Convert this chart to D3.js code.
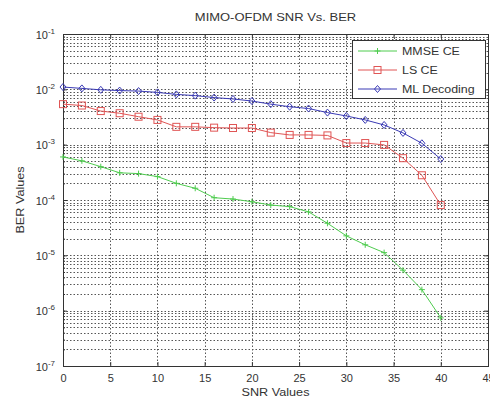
<!DOCTYPE html>
<html><head><meta charset="utf-8">
<script src="https://cdn.jsdelivr.net/npm/d3@7"></script>
<style>
html,body{margin:0;padding:0;background:#fff;}
text{font-family:"Liberation Sans",Arial,Helvetica,sans-serif;fill:#333;}
</style></head>
<body><svg id="c" width="490" height="401"></svg>
<script>
const snr = [0,2,4,6,8,10,12,14,16,18,20,22,24,26,28,30,32,34,36,38,40];
const mmseCE = [6.0e-4,5.1e-4,4.0e-4,3.1e-4,3.0e-4,2.65e-4,2.0e-4,1.63e-4,1.1e-4,1.04e-4,9.3e-5,8.1e-5,7.6e-5,6.1e-5,3.8e-5,2.25e-5,1.55e-5,1.12e-5,5.4e-6,2.4e-6,7.4e-7];
const lsCE = [5.4e-3,5.1e-3,4.05e-3,3.7e-3,3.2e-3,2.8e-3,2.1e-3,2.1e-3,2.03e-3,2.0e-3,2.0e-3,1.65e-3,1.5e-3,1.5e-3,1.47e-3,1.07e-3,1.07e-3,9.9e-4,5.7e-4,2.8e-4,8.1e-5];
const mlDec = [1.1e-2,1.04e-2,9.8e-3,9.5e-3,9.3e-3,8.8e-3,8.1e-3,7.7e-3,7.1e-3,6.7e-3,6.15e-3,5.4e-3,4.85e-3,4.5e-3,3.8e-3,3.3e-3,2.8e-3,2.27e-3,1.63e-3,1.06e-3,5.5e-4];
const seriesNames = ["MMSE CE","LS CE","ML Decoding"];
const xTickValues = [0,5,10,15,20,25,30,35,40,45];
const yTickExps = [-7,-6,-5,-4,-3,-2,-1];
const titleText = "MIMO-OFDM SNR Vs. BER";
const xLabel = "SNR Values";
const yLabel = "BER Values";

const svg = d3.select("#c");
const L=63, R=488, T=34, B=366;
const x = d3.scaleLinear().domain([0,45]).range([L,R]);
const y = d3.scaleLog().domain([1e-7,1e-1]).range([B,T]);

// grid
const minorVals = [];
yTickExps.slice(0,-1).forEach(e=>{for(let k=1;k<=9;k++){minorVals.push(k*Math.pow(10,e));}});
const grid = svg.append("g").attr("stroke","#555").attr("stroke-width",1).attr("stroke-dasharray","1.5,2").attr("fill","none");
grid.selectAll("line.h").data(minorVals.filter(v=>v>1.0001e-7)).enter().append("line")
  .attr("x1",L).attr("x2",R).attr("y1",d=>Math.round(y(d))+0.5).attr("y2",d=>Math.round(y(d))+0.5);
grid.selectAll("line.v").data(xTickValues.filter(v=>v>0&&v<45)).enter().append("line")
  .attr("y1",T).attr("y2",B).attr("x1",d=>Math.round(x(d))+0.5).attr("x2",d=>Math.round(x(d))+0.5);

// axes
const xAxis = d3.axisBottom(x).tickValues(xTickValues).tickSize(-4).tickPadding(8).tickFormat(d3.format("d"));
const gx = svg.append("g").attr("transform",`translate(0,${B})`).call(xAxis);
gx.select(".domain").remove();
gx.selectAll("line").attr("stroke","#333");
gx.selectAll("text").attr("font-size","11px").attr("fill","#444").style("font-family","'Liberation Sans',Arial,sans-serif");
const gxt = svg.append("g").attr("transform",`translate(0,${T})`).call(d3.axisTop(x).tickValues(xTickValues).tickSize(-4).tickFormat(""));
gxt.select(".domain").remove(); gxt.selectAll("line").attr("stroke","#333");

const yAxis = d3.axisLeft(y).tickValues(yTickExps.map(e=>Math.pow(10,e))).tickSize(-4).tickFormat("");
const gy = svg.append("g").attr("transform",`translate(${L},0)`).call(yAxis);
gy.select(".domain").remove(); gy.selectAll("line").attr("stroke","#333");
gy.selectAll(".tick").each(function(d){
  const t = d3.select(this).append("text").attr("x",-8).attr("y",4).attr("text-anchor","end").attr("font-size","11px").attr("fill","#444");
  t.append("tspan").text("10");
  t.append("tspan").attr("dy",-5).attr("font-size","8px").text(String(Math.round(Math.log10(d))));
});
const gyMinor = svg.append("g").attr("transform",`translate(${L},0)`).call(d3.axisLeft(y).tickValues(minorVals.filter(v=>v>1.0001e-7)).tickSize(-2).tickFormat(""));
gyMinor.select(".domain").remove(); gyMinor.selectAll("line").attr("stroke","#333");
const gyr = svg.append("g").attr("transform",`translate(${R},0)`).call(d3.axisRight(y).tickValues(yTickExps.map(e=>Math.pow(10,e))).tickSize(-4).tickFormat(""));
gyr.select(".domain").remove(); gyr.selectAll("line").attr("stroke","#333");

svg.append("rect").attr("x",L+0.5).attr("y",T+0.5).attr("width",R-L).attr("height",B-T).attr("fill","none").attr("stroke","#333").attr("stroke-width",1);

// series
const colors = ["#4fcc4f","#e05555","#3a3ab5"];
const data = [mmseCE,lsCE,mlDec];
const line = d3.line().x((d,i)=>x(snr[i])).y(d=>y(d));
function marker(g,k,cx,cy){
  if(k===0){
    g.append("path").attr("d",`M${cx-3},${cy}H${cx+3}M${cx},${cy-3}V${cy+3}`).attr("stroke",colors[0]).attr("stroke-width",1).attr("fill","none");
  } else if(k===1){
    g.append("rect").attr("x",cx-3.5).attr("y",cy-3.5).attr("width",7).attr("height",7).attr("fill","none").attr("stroke",colors[1]).attr("stroke-width",1);
  } else {
    g.append("path").attr("d",`M${cx},${cy-3.5}L${cx+3},${cy}L${cx},${cy+3.5}L${cx-3},${cy}Z`).attr("fill","none").attr("stroke",colors[2]).attr("stroke-width",1);
  }
}
data.forEach((arr,k)=>{
  const g = svg.append("g");
  g.append("path").datum(arr).attr("d",line).attr("fill","none").attr("stroke",colors[k]).attr("stroke-width",1);
  arr.forEach((v,i)=>marker(g,k,x(snr[i]),y(v)));
});

// legend
const lg = svg.append("g");
lg.append("rect").attr("x",352.5).attr("y",40.5).attr("width",133).attr("height",58).attr("fill","#fff").attr("stroke","#333");
seriesNames.forEach((n,k)=>{
  const cy = 51 + k*19;
  lg.append("line").attr("x1",358).attr("x2",397).attr("y1",cy).attr("y2",cy).attr("stroke",colors[k]);
  marker(lg,k,377.5,cy);
  lg.append("text").attr("x",402).attr("y",cy+4).attr("font-size","11.5px").attr("transform",`translate(402,0) scale(1.08,1) translate(-402,0)`).text(n);
});

// titles
svg.append("text").attr("x",0).attr("y",0).attr("text-anchor","middle").attr("font-size","11px")
  .attr("transform",`translate(${(L+R)/2},21) scale(1.18,1)`).text(titleText);
svg.append("text").attr("text-anchor","middle").attr("font-size","11.5px")
  .attr("transform",`translate(${(L+R)/2},396) scale(1.1,1)`).text(xLabel);
svg.append("text").attr("text-anchor","middle").attr("font-size","11.5px")
  .attr("transform",`translate(24,${(T+B)/2}) rotate(-90) scale(1.1,1)`).text(yLabel);
</script></body></html>
